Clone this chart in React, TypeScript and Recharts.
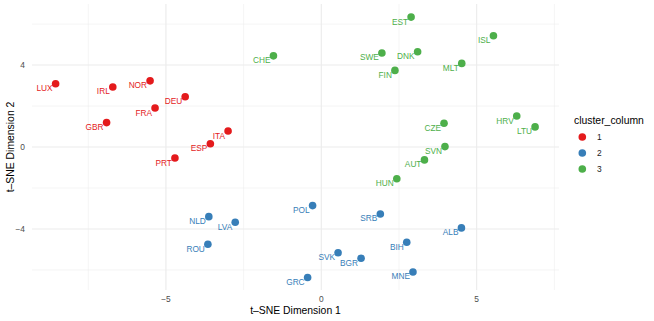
import React from 'react';
import { ScatterChart, Scatter, XAxis, YAxis, ReferenceLine } from 'recharts';

const cluster1Codes = ['LUX', 'IRL', 'NOR', 'DEU', 'FRA', 'GBR', 'ITA', 'ESP', 'PRT'];
const cluster1X = [-8.55, -6.71, -5.51, -4.38, -5.35, -6.91, -3.0, -3.57, -4.71];
const cluster1Y = [3.09, 2.93, 3.23, 2.45, 1.9, 1.19, 0.78, 0.16, -0.54];

const cluster2Codes = ['POL', 'NLD', 'LVA', 'ROU', 'GRC', 'SRB', 'ALB', 'BIH', 'SVK', 'BGR', 'MNE'];
const cluster2X = [-0.28, -3.62, -2.77, -3.65, -0.44, 1.9, 4.51, 2.75, 0.54, 1.28, 2.95];
const cluster2Y = [-2.86, -3.4, -3.67, -4.75, -6.37, -3.27, -3.95, -4.65, -5.16, -5.43, -6.1];

const cluster3Codes = ['CHE', 'EST', 'ISL', 'SWE', 'DNK', 'MLT', 'FIN', 'HRV', 'LTU', 'CZE', 'SVN', 'AUT', 'HUN'];
const cluster3X = [-1.54, 2.89, 5.54, 1.95, 3.1, 4.52, 2.37, 6.29, 6.88, 3.95, 3.98, 3.32, 2.43];
const cluster3Y = [4.45, 6.34, 5.43, 4.59, 4.65, 4.08, 3.74, 1.51, 0.98, 1.16, 0.02, -0.63, -1.55];

const clusterNames = ['1', '2', '3'];
const clusterColors = ['#E41A1C', '#377EB8', '#4DAF4A'];

const xTicks = [-5, 0, 5];
const yTicks = [-4, 0, 4];
const xMinor = [-7.5, -2.5, 2.5, 7.5];
const yMinor = [-6, -2, 2, 6];

const FONT = '"Liberation Sans", Arial, sans-serif';
const GRID = '#ebebeb';

const toRows = (codes: string[], xs: number[], ys: number[]) =>
  codes.map((code, i) => ({ code, x: xs[i], y: ys[i] }));

const clusters = [
  toRows(cluster1Codes, cluster1X, cluster1Y),
  toRows(cluster2Codes, cluster2X, cluster2Y),
  toRows(cluster3Codes, cluster3X, cluster3Y),
];

const fmt = (v: number) => (v < 0 ? `\u2212${Math.abs(v)}` : `${v}`);

// dot plus its country code, placed below-left like the original
const makeShape = (color: string) => (props: any) => {
  const { cx, cy, payload } = props;
  return (
    <g>
      <circle cx={cx} cy={cy} r={3.8} fill={color} />
      <text
        x={cx - 3}
        y={cy + 4.5}
        textAnchor="end"
        dominantBaseline="central"
        fontSize={8.3}
        fontFamily={FONT}
        fill={color}
      >
        {payload.code}
      </text>
    </g>
  );
};

export default function App() {
  return (
    <div style={{ position: 'absolute', left: 0, top: 0, width: 654, height: 321, background: '#fff' }}>
      <ScatterChart width={654} height={321} margin={{ top: 4, right: 95, bottom: 0, left: 0 }}>
        <XAxis
          type="number"
          dataKey="x"
          domain={[-9.31, 7.65]}
          ticks={xTicks}
          tickFormatter={fmt}
          allowDataOverflow
          height={31}
          axisLine={false}
          tickLine={false}
          tickSize={4}
          tick={{ fill: '#4d4d4d', fontSize: 8.4, fontFamily: FONT }}
          label={{
            value: 't\u2013SNE Dimension 1',
            position: 'insideBottom',
            offset: 7,
            style: { fill: '#000', fontSize: 10.4, fontFamily: FONT },
          }}
        />
        <YAxis
          type="number"
          dataKey="y"
          domain={[-6.98, 6.98]}
          ticks={yTicks}
          tickFormatter={fmt}
          allowDataOverflow
          width={32}
          axisLine={false}
          tickLine={false}
          tickSize={5}
          tick={{ fill: '#4d4d4d', fontSize: 8.4, fontFamily: FONT }}
          label={{
            value: 't\u2013SNE Dimension 2',
            angle: -90,
            position: 'insideLeft',
            offset: 10,
            textAnchor: 'middle',
            style: { fill: '#000', fontSize: 10.4, fontFamily: FONT, textAnchor: 'middle' },
          }}
        />
        {xMinor.map((v) => (
          <ReferenceLine key={`xm${v}`} x={v} stroke={GRID} strokeWidth={0.55} />
        ))}
        {yMinor.map((v) => (
          <ReferenceLine key={`ym${v}`} y={v} stroke={GRID} strokeWidth={0.55} />
        ))}
        {xTicks.map((v) => (
          <ReferenceLine key={`x${v}`} x={v} stroke={GRID} strokeWidth={1.1} />
        ))}
        {yTicks.map((v) => (
          <ReferenceLine key={`y${v}`} y={v} stroke={GRID} strokeWidth={1.1} />
        ))}
        {clusters.map((rows, i) => (
          <Scatter
            key={clusterNames[i]}
            name={clusterNames[i]}
            data={rows}
            fill={clusterColors[i]}
            shape={makeShape(clusterColors[i])}
            isAnimationActive={false}
          />
        ))}
      </ScatterChart>
      <div style={{ position: 'absolute', left: 574, top: 113, fontFamily: FONT }}>
        <div style={{ fontSize: 10.4, color: '#000', lineHeight: '16px' }}>cluster_column</div>
        {clusterNames.map((name, i) => (
          <div key={name} style={{ display: 'flex', alignItems: 'center', height: 16 }}>
            <svg width={17} height={16}>
              <circle cx={8.3} cy={8} r={3.8} fill={clusterColors[i]} />
            </svg>
            <span style={{ fontSize: 8.4, color: '#1a1a1a', marginLeft: 6 }}>{name}</span>
          </div>
        ))}
      </div>
    </div>
  );
}
